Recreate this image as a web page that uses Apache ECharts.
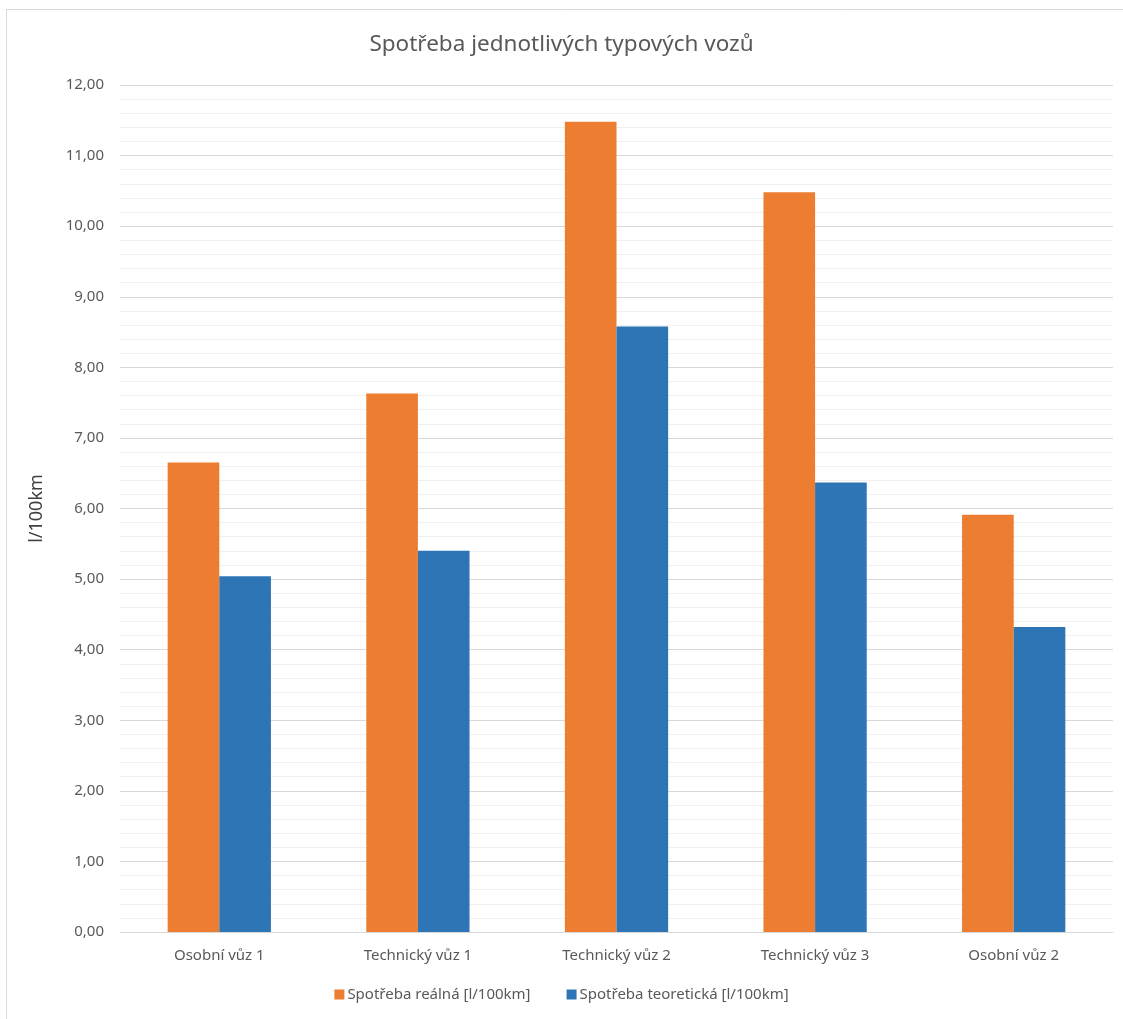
<!DOCTYPE html>
<html>
<head>
<meta charset="utf-8">
<script src="https://cdn.jsdelivr.net/npm/echarts@6/dist/echarts.min.js"></script>
<style>
html,body{margin:0;padding:0;background:#fff;}
#chart{width:1123px;height:1019px;}
</style>
</head>
<body>
<div id="chart"></div>
<script>
const categories = ['Osobní vůz 1', 'Technický vůz 1', 'Technický vůz 2', 'Technický vůz 3', 'Osobní vůz 2'];
const realValues = [6.65, 7.63, 11.48, 10.48, 5.91];
const theoreticalValues = [5.04, 5.40, 8.58, 6.37, 4.32];
const seriesNames = ['Spotřeba reálná [l/100km]', 'Spotřeba teoretická [l/100km]'];
const titleText = 'Spotřeba jednotlivých typových vozů';
const yAxisName = 'l/100km';

const FONT = 'Noto Sans';
const chart = echarts.init(document.getElementById('chart'), null, {renderer: 'canvas'});
chart.setOption({
  animation: false,
  backgroundColor: '#fff',
  textStyle: {fontFamily: FONT},
  graphic: [{
    type: 'rect',
    silent: true,
    shape: {x: 6.5, y: 9.5, width: 1300, height: 1200},
    style: {fill: 'none', stroke: '#d9d9d9', lineWidth: 1}
  }],
  title: {
    text: titleText,
    left: 'center',
    top: 28,
    textStyle: {fontFamily: FONT, fontSize: 22.5, fontWeight: 'normal', color: '#595959'}
  },
  grid: {left: 120, right: 10, top: 85, bottom: 87, containLabel: false},
  legend: {
    data: seriesNames,
    bottom: 12,
    left: 'center',
    icon: 'rect',
    itemWidth: 10,
    itemHeight: 10,
    itemGap: 36,
    textStyle: {fontFamily: FONT, fontSize: 15, color: '#595959', padding: [0, 0, 0, -2]}
  },
  xAxis: {
    type: 'category',
    data: categories,
    axisLine: {lineStyle: {color: '#d9d9d9', width: 1}},
    axisTick: {show: false},
    axisLabel: {fontFamily: FONT, fontSize: 15, color: '#595959', margin: 16},
    splitLine: {show: false}
  },
  yAxis: {
    type: 'value',
    min: 0,
    max: 12,
    interval: 1,
    name: yAxisName,
    nameLocation: 'middle',
    nameRotate: 90,
    nameGap: 74,
    nameTextStyle: {fontFamily: FONT, fontSize: 18, color: '#404040'},
    axisLine: {show: false},
    axisTick: {show: false},
    axisLabel: {
      fontFamily: FONT, fontSize: 15, color: '#595959', margin: 16,
      formatter: v => v.toFixed(2).replace('.', ',')
    },
    splitLine: {lineStyle: {color: '#d9d9d9', width: 1}},
    minorTick: {show: false, splitNumber: 5},
    minorSplitLine: {show: true, lineStyle: {color: '#f0f0f0', width: 1}}
  },
  series: [
    {
      name: seriesNames[0],
      type: 'bar',
      data: realValues,
      barGap: '0%',
      barCategoryGap: '48%',
      itemStyle: {color: '#ED7D31'}
    },
    {
      name: seriesNames[1],
      type: 'bar',
      data: theoreticalValues,
      barGap: '0%',
      barCategoryGap: '48%',
      itemStyle: {color: '#2E75B6'}
    }
  ]
});
</script>
</body>
</html>
